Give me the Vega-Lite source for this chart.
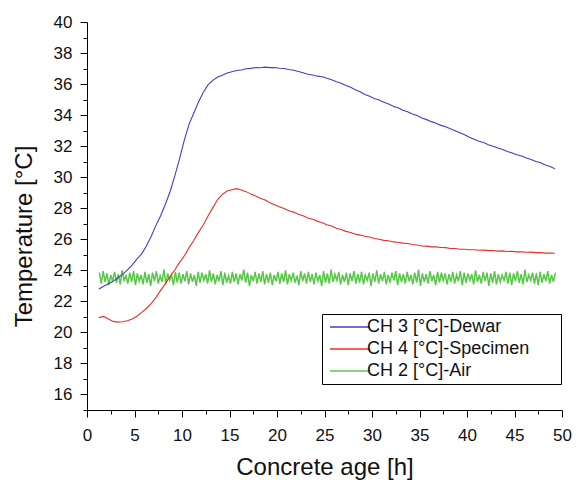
{
  "$schema": "https://vega.github.io/schema/vega-lite/v6.json",
  "width": 475,
  "height": 388,
  "autosize": "none",
  "padding": {"left": 87, "top": 22, "right": 19, "bottom": 70},
  "background": "white",
  "config": {
    "view": {"stroke": null},
    "font": "Liberation Sans",
    "axis": {
      "grid": false,
      "domainColor": "#000",
      "tickColor": "#000",
      "domainWidth": 1,
      "tickWidth": 1,
      "labelColor": "#111",
      "titleColor": "#111",
      "labelFont": "Liberation Sans",
      "titleFont": "Liberation Sans",
      "labelFontSize": 17,
      "titleFontSize": 24,
      "titleFontWeight": "normal",
      "labelFlush": false,
      "offset": 0
    }
  },
  "datasets": {
    "dewar": [
      {"x":1.25,"t":22.80},{"x":1.75,"t":22.97},{"x":2.25,"t":23.13},{"x":2.75,"t":23.29},{"x":3.25,"t":23.52},{"x":3.75,"t":23.74},{"x":4.25,"t":24.03},{"x":4.75,"t":24.33},{"x":5.25,"t":24.72},{"x":5.75,"t":25.06},
      {"x":6.25,"t":25.57},{"x":6.75,"t":26.18},{"x":7.25,"t":26.88},{"x":7.75,"t":27.52},{"x":8.25,"t":28.26},{"x":8.75,"t":29.08},{"x":9.25,"t":30.10},{"x":9.75,"t":31.20},{"x":10.25,"t":32.40},{"x":10.75,"t":33.42},
      {"x":11.25,"t":34.15},{"x":11.75,"t":34.86},{"x":12.25,"t":35.48},{"x":12.75,"t":35.96},{"x":13.25,"t":36.24},{"x":13.75,"t":36.46},{"x":14.25,"t":36.57},{"x":14.75,"t":36.71},{"x":15.25,"t":36.79},{"x":15.75,"t":36.87},
      {"x":16.25,"t":36.91},{"x":16.75,"t":36.99},{"x":17.25,"t":37.01},{"x":17.75,"t":37.07},{"x":18.25,"t":37.05},{"x":18.75,"t":37.09},{"x":19.25,"t":37.06},{"x":19.75,"t":37.07},{"x":20.25,"t":37.02},{"x":20.75,"t":37.00},
      {"x":21.25,"t":36.94},{"x":21.75,"t":36.89},{"x":22.25,"t":36.81},{"x":22.75,"t":36.73},{"x":23.25,"t":36.63},{"x":23.75,"t":36.59},{"x":24.25,"t":36.51},{"x":24.75,"t":36.47},{"x":25.25,"t":36.37},{"x":25.75,"t":36.28},
      {"x":26.25,"t":36.15},{"x":26.75,"t":36.06},{"x":27.25,"t":35.91},{"x":27.75,"t":35.80},{"x":28.25,"t":35.63},{"x":28.75,"t":35.51},{"x":29.25,"t":35.33},{"x":29.75,"t":35.21},{"x":30.25,"t":35.07},{"x":30.75,"t":34.97},
      {"x":31.25,"t":34.83},{"x":31.75,"t":34.71},{"x":32.25,"t":34.57},{"x":32.75,"t":34.47},{"x":33.25,"t":34.32},{"x":33.75,"t":34.22},{"x":34.25,"t":34.07},{"x":34.75,"t":33.97},{"x":35.25,"t":33.81},{"x":35.75,"t":33.71},
      {"x":36.25,"t":33.58},{"x":36.75,"t":33.48},{"x":37.25,"t":33.34},{"x":37.75,"t":33.25},{"x":38.25,"t":33.12},{"x":38.75,"t":33.00},{"x":39.25,"t":32.86},{"x":39.75,"t":32.73},{"x":40.25,"t":32.57},{"x":40.75,"t":32.45},
      {"x":41.25,"t":32.32},{"x":41.75,"t":32.23},{"x":42.25,"t":32.09},{"x":42.75,"t":32.00},{"x":43.25,"t":31.88},{"x":43.75,"t":31.79},{"x":44.25,"t":31.66},{"x":44.75,"t":31.56},{"x":45.25,"t":31.45},{"x":45.75,"t":31.37},
      {"x":46.25,"t":31.24},{"x":46.75,"t":31.14},{"x":47.25,"t":31.01},{"x":47.75,"t":30.93},{"x":48.25,"t":30.79},{"x":48.75,"t":30.69},{"x":49.25,"t":30.55}
    ],
    "specimen": [
      {"x":1.25,"t":20.95},{"x":1.75,"t":21.03},{"x":2.25,"t":20.86},{"x":2.75,"t":20.71},{"x":3.25,"t":20.66},{"x":3.75,"t":20.69},{"x":4.25,"t":20.75},{"x":4.75,"t":20.87},{"x":5.25,"t":21.04},{"x":5.75,"t":21.29},
      {"x":6.25,"t":21.54},{"x":6.75,"t":21.86},{"x":7.25,"t":22.24},{"x":7.75,"t":22.71},{"x":8.25,"t":23.14},{"x":8.75,"t":23.61},{"x":9.25,"t":24.04},{"x":9.75,"t":24.51},{"x":10.25,"t":24.94},{"x":10.75,"t":25.46},
      {"x":11.25,"t":25.94},{"x":11.75,"t":26.46},{"x":12.25,"t":26.94},{"x":12.75,"t":27.51},{"x":13.25,"t":28.04},{"x":13.75,"t":28.56},{"x":14.25,"t":28.89},{"x":14.75,"t":29.11},{"x":15.25,"t":29.19},{"x":15.75,"t":29.26},
      {"x":16.25,"t":29.17},{"x":16.75,"t":29.07},{"x":17.25,"t":28.91},{"x":17.75,"t":28.79},{"x":18.25,"t":28.65},{"x":18.75,"t":28.53},{"x":19.25,"t":28.35},{"x":19.75,"t":28.23},{"x":20.25,"t":28.09},{"x":20.75,"t":27.99},
      {"x":21.25,"t":27.84},{"x":21.75,"t":27.75},{"x":22.25,"t":27.61},{"x":22.75,"t":27.51},{"x":23.25,"t":27.37},{"x":23.75,"t":27.29},{"x":24.25,"t":27.17},{"x":24.75,"t":27.07},{"x":25.25,"t":26.94},{"x":25.75,"t":26.85},
      {"x":26.25,"t":26.71},{"x":26.75,"t":26.63},{"x":27.25,"t":26.51},{"x":27.75,"t":26.44},{"x":28.25,"t":26.33},{"x":28.75,"t":26.27},{"x":29.25,"t":26.19},{"x":29.75,"t":26.15},{"x":30.25,"t":26.05},{"x":30.75,"t":26.00},
      {"x":31.25,"t":25.93},{"x":31.75,"t":25.91},{"x":32.25,"t":25.83},{"x":32.75,"t":25.81},{"x":33.25,"t":25.75},{"x":33.75,"t":25.73},{"x":34.25,"t":25.66},{"x":34.75,"t":25.63},{"x":35.25,"t":25.57},{"x":35.75,"t":25.56},
      {"x":36.25,"t":25.51},{"x":36.75,"t":25.51},{"x":37.25,"t":25.47},{"x":37.75,"t":25.46},{"x":38.25,"t":25.41},{"x":38.75,"t":25.41},{"x":39.25,"t":25.36},{"x":39.75,"t":25.36},{"x":40.25,"t":25.33},{"x":40.75,"t":25.33},
      {"x":41.25,"t":25.29},{"x":41.75,"t":25.30},{"x":42.25,"t":25.27},{"x":42.75,"t":25.28},{"x":43.25,"t":25.24},{"x":43.75,"t":25.25},{"x":44.25,"t":25.21},{"x":44.75,"t":25.22},{"x":45.25,"t":25.19},{"x":45.75,"t":25.19},
      {"x":46.25,"t":25.16},{"x":46.75,"t":25.17},{"x":47.25,"t":25.14},{"x":47.75,"t":25.14},{"x":48.25,"t":25.11},{"x":48.75,"t":25.12},{"x":49.25,"t":25.10}
    ],
    "air": [
      {"x":1.3,"t":23.85},{"x":1.5,"t":23.15},{"x":1.7,"t":23.95},{"x":1.9,"t":23.25},{"x":2.1,"t":23.80},{"x":2.3,"t":23.05},{"x":2.5,"t":23.70},{"x":2.7,"t":23.30},{"x":2.9,"t":23.90},{"x":3.1,"t":23.20},
      {"x":3.3,"t":23.75},{"x":3.5,"t":23.10},{"x":3.7,"t":24.00},{"x":3.9,"t":23.35},{"x":4.1,"t":23.65},{"x":4.3,"t":23.15},{"x":4.5,"t":23.85},{"x":4.7,"t":23.25},{"x":4.9,"t":23.95},{"x":5.1,"t":23.05},
      {"x":5.3,"t":23.80},{"x":5.5,"t":23.30},{"x":5.7,"t":23.70},{"x":5.9,"t":23.10},{"x":6.1,"t":23.90},{"x":6.3,"t":23.20},{"x":6.5,"t":23.75},{"x":6.7,"t":23.00},{"x":6.9,"t":23.85},{"x":7.1,"t":23.30},
      {"x":7.3,"t":23.95},{"x":7.5,"t":23.15},{"x":7.7,"t":23.65},{"x":7.9,"t":23.25},{"x":8.1,"t":24.05},{"x":8.3,"t":23.10},{"x":8.5,"t":23.80},{"x":8.7,"t":23.35},{"x":8.9,"t":23.70},{"x":9.1,"t":23.05},
      {"x":9.3,"t":23.90},{"x":9.5,"t":23.20},{"x":9.7,"t":23.85},{"x":9.9,"t":23.15},{"x":10.1,"t":23.75},{"x":10.3,"t":23.30},{"x":10.5,"t":23.95},{"x":10.7,"t":23.10},{"x":10.9,"t":23.80},{"x":11.1,"t":23.25},
      {"x":11.3,"t":23.70},{"x":11.5,"t":23.00},{"x":11.7,"t":23.90},{"x":11.9,"t":23.20},{"x":12.1,"t":23.85},{"x":12.3,"t":23.35},{"x":12.5,"t":23.75},{"x":12.7,"t":23.15},{"x":12.9,"t":24.00},{"x":13.1,"t":23.25},
      {"x":13.3,"t":23.80},{"x":13.5,"t":23.10},{"x":13.7,"t":23.70},{"x":13.9,"t":23.30},{"x":14.1,"t":23.95},{"x":14.3,"t":23.05},{"x":14.5,"t":23.85},{"x":14.7,"t":23.20},{"x":14.9,"t":23.65},{"x":15.1,"t":23.15},
      {"x":15.3,"t":23.90},{"x":15.5,"t":23.25},{"x":15.7,"t":23.80},{"x":15.9,"t":23.10},{"x":16.1,"t":23.75},{"x":16.3,"t":23.35},{"x":16.5,"t":24.05},{"x":16.7,"t":23.20},{"x":16.9,"t":23.85},{"x":17.1,"t":23.00},
      {"x":17.3,"t":23.70},{"x":17.5,"t":23.30},{"x":17.7,"t":23.90},{"x":17.9,"t":23.15},{"x":18.1,"t":23.80},{"x":18.3,"t":23.25},{"x":18.5,"t":23.95},{"x":18.7,"t":23.10},{"x":18.9,"t":23.75},{"x":19.1,"t":23.20},
      {"x":19.3,"t":23.85},{"x":19.5,"t":23.05},{"x":19.7,"t":23.70},{"x":19.9,"t":23.30},{"x":20.1,"t":23.90},{"x":20.3,"t":23.15},{"x":20.5,"t":23.80},{"x":20.7,"t":23.25},{"x":20.9,"t":24.00},{"x":21.1,"t":23.10},
      {"x":21.3,"t":23.75},{"x":21.5,"t":23.35},{"x":21.7,"t":23.85},{"x":21.9,"t":23.20},{"x":22.1,"t":23.65},{"x":22.3,"t":23.05},{"x":22.5,"t":23.95},{"x":22.7,"t":23.30},{"x":22.9,"t":23.80},{"x":23.1,"t":23.15},
      {"x":23.3,"t":23.90},{"x":23.5,"t":23.25},{"x":23.7,"t":23.75},{"x":23.9,"t":23.10},{"x":24.1,"t":23.85},{"x":24.3,"t":23.30},{"x":24.5,"t":23.70},{"x":24.7,"t":23.00},{"x":24.9,"t":23.95},{"x":25.1,"t":23.20},
      {"x":25.3,"t":23.80},{"x":25.5,"t":23.15},{"x":25.7,"t":24.05},{"x":25.9,"t":23.25},{"x":26.1,"t":23.75},{"x":26.3,"t":23.35},{"x":26.5,"t":23.90},{"x":26.7,"t":23.10},{"x":26.9,"t":23.70},{"x":27.1,"t":23.25},
      {"x":27.3,"t":23.85},{"x":27.5,"t":23.05},{"x":27.7,"t":23.80},{"x":27.9,"t":23.30},{"x":28.1,"t":23.95},{"x":28.3,"t":23.15},{"x":28.5,"t":23.75},{"x":28.7,"t":23.20},{"x":28.9,"t":23.90},{"x":29.1,"t":23.10},
      {"x":29.3,"t":23.70},{"x":29.5,"t":23.35},{"x":29.7,"t":23.85},{"x":29.9,"t":23.00},{"x":30.1,"t":23.80},{"x":30.3,"t":23.25},{"x":30.5,"t":24.00},{"x":30.7,"t":23.15},{"x":30.9,"t":23.75},{"x":31.1,"t":23.30},
      {"x":31.3,"t":23.90},{"x":31.5,"t":23.10},{"x":31.7,"t":23.70},{"x":31.9,"t":23.20},{"x":32.1,"t":23.85},{"x":32.3,"t":23.35},{"x":32.5,"t":23.95},{"x":32.7,"t":23.05},{"x":32.9,"t":23.80},{"x":33.1,"t":23.25},
      {"x":33.3,"t":23.75},{"x":33.5,"t":23.15},{"x":33.7,"t":23.90},{"x":33.9,"t":23.30},{"x":34.1,"t":23.70},{"x":34.3,"t":23.10},{"x":34.5,"t":23.85},{"x":34.7,"t":23.20},{"x":34.9,"t":24.05},{"x":35.1,"t":23.00},
      {"x":35.3,"t":23.80},{"x":35.5,"t":23.25},{"x":35.7,"t":23.75},{"x":35.9,"t":23.15},{"x":36.1,"t":23.95},{"x":36.3,"t":23.30},{"x":36.5,"t":23.70},{"x":36.7,"t":23.05},{"x":36.9,"t":23.90},{"x":37.1,"t":23.20},
      {"x":37.3,"t":23.85},{"x":37.5,"t":23.35},{"x":37.7,"t":23.80},{"x":37.9,"t":23.10},{"x":38.1,"t":23.75},{"x":38.3,"t":23.25},{"x":38.5,"t":23.90},{"x":38.7,"t":23.15},{"x":38.9,"t":23.70},{"x":39.1,"t":23.30},
      {"x":39.3,"t":23.95},{"x":39.5,"t":23.05},{"x":39.7,"t":23.85},{"x":39.9,"t":23.20},{"x":40.1,"t":23.80},{"x":40.3,"t":23.35},{"x":40.5,"t":23.75},{"x":40.7,"t":23.10},{"x":40.9,"t":24.00},{"x":41.1,"t":23.25},
      {"x":41.3,"t":23.70},{"x":41.5,"t":23.15},{"x":41.7,"t":23.90},{"x":41.9,"t":23.30},{"x":42.1,"t":23.85},{"x":42.3,"t":23.00},{"x":42.5,"t":23.80},{"x":42.7,"t":23.20},{"x":42.9,"t":23.95},{"x":43.1,"t":23.10},
      {"x":43.3,"t":23.75},{"x":43.5,"t":23.25},{"x":43.7,"t":23.70},{"x":43.9,"t":23.35},{"x":44.1,"t":23.90},{"x":44.3,"t":23.15},{"x":44.5,"t":23.85},{"x":44.7,"t":23.05},{"x":44.9,"t":23.80},{"x":45.1,"t":23.30},
      {"x":45.3,"t":23.95},{"x":45.5,"t":23.20},{"x":45.7,"t":23.75},{"x":45.9,"t":23.10},{"x":46.1,"t":24.05},{"x":46.3,"t":23.25},{"x":46.5,"t":23.70},{"x":46.7,"t":23.35},{"x":46.9,"t":23.85},{"x":47.1,"t":23.15},
      {"x":47.3,"t":23.80},{"x":47.5,"t":23.05},{"x":47.7,"t":23.90},{"x":47.9,"t":23.20},{"x":48.1,"t":23.75},{"x":48.3,"t":23.30},{"x":48.5,"t":23.95},{"x":48.7,"t":23.15},{"x":48.9,"t":23.70},{"x":49.1,"t":23.25},
      {"x":49.3,"t":23.85}
    ]
  },
  "layer": [
    {
      "data": {"name": "air"},
      "mark": {"type": "line", "strokeWidth": 1.5},
      "encoding": {
        "x": {"field": "x", "type": "quantitative", "scale": {"domain": [0, 50], "nice": false, "zero": false},
          "axis": {"values": [0,5,10,15,20,25,30,35,40,45,50], "title": "Concrete age [h]", "tickSize": 7, "labelPadding": 10, "titlePadding": 12, "orient": "bottom", "offset": 0}},
        "y": {"field": "t", "type": "quantitative", "scale": {"domain": [15, 40], "nice": false, "zero": false},
          "axis": {"values": [16,18,20,22,24,26,28,30,32,34,36,38,40], "title": "Temperature [°C]", "tickSize": 7, "labelPadding": 8, "titlePadding": 15, "titleX": -51, "titleY": 214, "orient": "left", "offset": 0}},
        "color": {"datum": "CH 2 [°C]-Air", "type": "nominal",
          "scale": {"domain": ["CH 3 [°C]-Dewar", "CH 4 [°C]-Specimen", "CH 2 [°C]-Air"], "range": ["#5038c0", "#e8302a", "#58c848"]},
          "legend": {"orient": "none", "legendX": 235, "legendY": 292, "title": "\u00a0", "titleOrient": "right", "titlePadding": 28, "titleFontSize": 4, "strokeColor": "#000", "fillColor": "white", "padding": 4, "symbolType": "M-4,0H4", "symbolSize": 100, "symbolOffset": 15, "symbolStrokeWidth": 1.3, "labelFontSize": 18, "labelFont": "Liberation Sans", "labelColor": "#111", "labelLimit": 400, "rowPadding": 4, "labelOffset": 8}}
      }
    },
    {
      "data": {"name": "specimen"},
      "mark": {"type": "line", "strokeWidth": 1.1},
      "encoding": {
        "x": {"field": "x", "type": "quantitative", "axis": null},
        "y": {"field": "t", "type": "quantitative", "axis": null},
        "color": {"datum": "CH 4 [°C]-Specimen", "type": "nominal"}
      }
    },
    {
      "data": {"name": "dewar"},
      "mark": {"type": "line", "strokeWidth": 1.1},
      "encoding": {
        "x": {"field": "x", "type": "quantitative", "axis": null},
        "y": {"field": "t", "type": "quantitative", "axis": null},
        "color": {"datum": "CH 3 [°C]-Dewar", "type": "nominal"}
      }
    },
    {
      "data": {"name": "dewar"},
      "mark": {"type": "point", "opacity": 0},
      "encoding": {
        "x": {"field": "x", "type": "quantitative",
          "axis": {"values": [2.5,7.5,12.5,17.5,22.5,27.5,32.5,37.5,42.5,47.5], "labels": false, "domain": false, "title": null, "tickSize": 4, "orient": "bottom", "offset": 0}},
        "y": {"field": "t", "type": "quantitative",
          "axis": {"values": [15,17,19,21,23,25,27,29,31,33,35,37,39], "labels": false, "domain": false, "title": null, "tickSize": 4, "orient": "left", "offset": 0}}
      }
    }
  ],
  "resolve": {"axis": {"x": "independent", "y": "independent"}}
}
